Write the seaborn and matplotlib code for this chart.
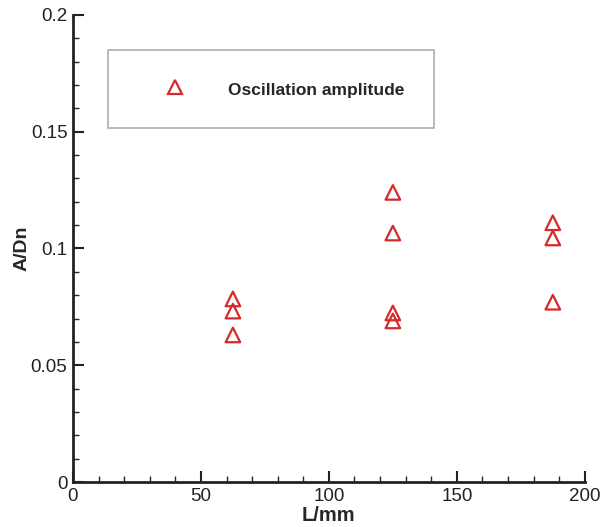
import matplotlib
matplotlib.use("Agg")
import matplotlib.pyplot as plt
import pandas as pd
import seaborn as sns
from matplotlib.ticker import MultipleLocator

# values
length_mm = [62.5, 62.5, 62.5, 125, 125, 125, 125, 187.5, 187.5, 187.5]
amplitude = [0.0784, 0.0732, 0.0630, 0.1240, 0.1066, 0.0724, 0.0690, 0.1110, 0.1045, 0.0770]
series_label = "Oscillation amplitude"

df = pd.DataFrame({"L": length_mm, "A": amplitude, "series": series_label})

sns.set_style("ticks")
plt.rcParams["font.family"] = ["Liberation Sans", "DejaVu Sans"]

fig = plt.figure(figsize=(6.13, 5.27), dpi=100)
ax = fig.add_axes([0.119, 0.085, 0.835, 0.887])

sns.scatterplot(data=df, x="L", y="A", hue="series", palette=["#d42a2a"],
                marker="^", s=110, linewidth=1.6, ax=ax)
# hollow triangles: seaborn passes hue colour as facecolor, reset it
for coll in ax.collections:
    coll.set_facecolor("none")
    coll.set_edgecolor("#d42a2a")

ax.set_xlim(0, 200)
ax.set_ylim(0, 0.2)
ax.xaxis.set_major_locator(MultipleLocator(50))
ax.xaxis.set_minor_locator(MultipleLocator(10))
ax.yaxis.set_minor_locator(MultipleLocator(0.01))
ax.set_yticks([0, 0.05, 0.1, 0.15, 0.2])
ax.set_yticklabels(["0", "0.05", "0.1", "0.15", "0.2"])
ax.tick_params(which="major", direction="in", length=8, width=1.5, labelsize=13.5,
               colors="#222222", pad=4)
ax.tick_params(which="minor", direction="in", length=4, width=1)
for side in ["top", "right"]:
    ax.spines[side].set_visible(False)
for side in ["left", "bottom"]:
    ax.spines[side].set_linewidth(2)
    ax.spines[side].set_color("#222222")

ax.set_xlabel("L/mm", fontsize=14.5, fontweight="bold", labelpad=1)
ax.set_ylabel("A/Dn", fontsize=14, fontweight="bold", labelpad=0)

leg = ax.legend(loc="upper left", bbox_to_anchor=(0.068, 0.925), borderaxespad=0,
                frameon=True, fancybox=False, edgecolor="#999999", borderpad=1.7,
                handlelength=4.4, handletextpad=0.85, handleheight=1.3,
                prop={"weight": "bold", "size": 12.5})
leg.get_frame().set_linewidth(1.2)
for h in leg.legend_handles:
    h.set_markerfacecolor("none")
    h.set_markeredgecolor("#d42a2a")
    h.set_markeredgewidth(1.6)

fig.savefig("out.png", dpi=100)
